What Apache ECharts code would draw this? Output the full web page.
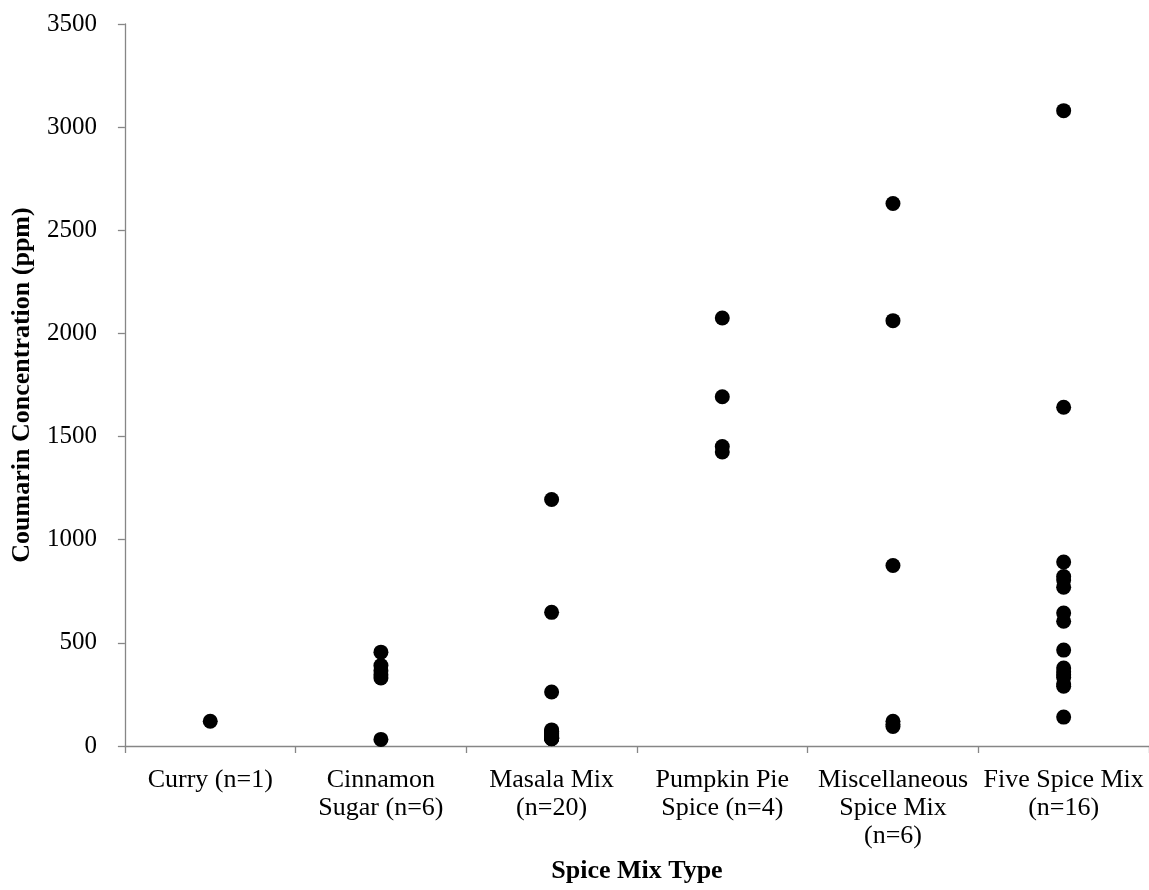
<!DOCTYPE html>
<html>
<head>
<meta charset="utf-8">
<script src="https://cdn.jsdelivr.net/npm/echarts@6/dist/echarts.min.js"></script>
<style>
html,body{margin:0;padding:0;background:#fff;}
#chart{width:1149px;height:890px;}
</style>
</head>
<body>
<div id="chart"></div>
<script>
const categories = [
  "Curry (n=1)",
  "Cinnamon\nSugar (n=6)",
  "Masala Mix\n(n=20)",
  "Pumpkin Pie\nSpice (n=4)",
  "Miscellaneous\nSpice Mix\n(n=6)",
  "Five Spice Mix\n(n=16)"
];
const curry = [120];
const cinnamonSugar = [455, 390, 365, 345, 330, 32];
const masalaMix = [1195, 648, 262, 78, 72, 68, 64, 60, 56, 53, 50, 48, 46, 44, 42, 40, 38, 37, 36, 35];
const pumpkinPie = [2075, 1693, 1452, 1425];
const miscSpice = [2630, 2062, 875, 120, 105, 95];
const fiveSpice = [3080, 1642, 892, 822, 805, 770, 645, 605, 465, 378, 360, 345, 332, 300, 290, 140];
const yTicks = { min: 0, max: 3500, interval: 500 };

const groups = [curry, cinnamonSugar, masalaMix, pumpkinPie, miscSpice, fiveSpice];
const points = [];
groups.forEach((g, i) => g.forEach(v => points.push([i, v])));

const font = '"Liberation Serif", "Times New Roman", serif';
const axisColor = '#868686';

const chart = echarts.init(document.getElementById('chart'), null, {renderer: 'canvas'});
chart.setOption({
  backgroundColor: '#ffffff',
  animation: false,
  grid: { left: 121, right: 0, top: 24, bottom: 139, containLabel: false },
  xAxis: {
    type: 'category',
    data: categories,
    boundaryGap: true,
    name: 'Spice Mix Type',
    nameLocation: 'middle',
    nameGap: 111,
    nameTextStyle: { fontFamily: font, fontSize: 26, lineHeight: 28, fontWeight: 'bold', color: '#000' },
    axisLine: { lineStyle: { color: axisColor, width: 1.3 } },
    axisTick: { show: true, alignWithLabel: false, length: 7, lineStyle: { color: axisColor, width: 1.3 } },
    axisLabel: { interval: 0, fontFamily: font, fontSize: 26, color: '#000', margin: 20, lineHeight: 28 },
    splitLine: { show: false }
  },
  yAxis: {
    type: 'value',
    min: yTicks.min, max: yTicks.max, interval: yTicks.interval,
    name: 'Coumarin Concentration (ppm)',
    nameLocation: 'middle',
    nameGap: 88,
    nameTextStyle: { fontFamily: font, fontSize: 26, lineHeight: 28, fontWeight: 'bold', color: '#000' },
    axisLine: { show: true, lineStyle: { color: axisColor, width: 1.3 } },
    axisTick: { show: true, inside: false, length: 7, lineStyle: { color: axisColor, width: 1.3 } },
    axisLabel: { fontFamily: font, fontSize: 25, color: '#000', margin: 28, formatter: v => String(v) },
    splitLine: { show: false }
  },
  series: [{
    type: 'scatter',
    data: points,
    symbol: 'circle',
    symbolSize: 15,
    itemStyle: { color: '#000', opacity: 1 }
  }]
});
</script>
</body>
</html>
